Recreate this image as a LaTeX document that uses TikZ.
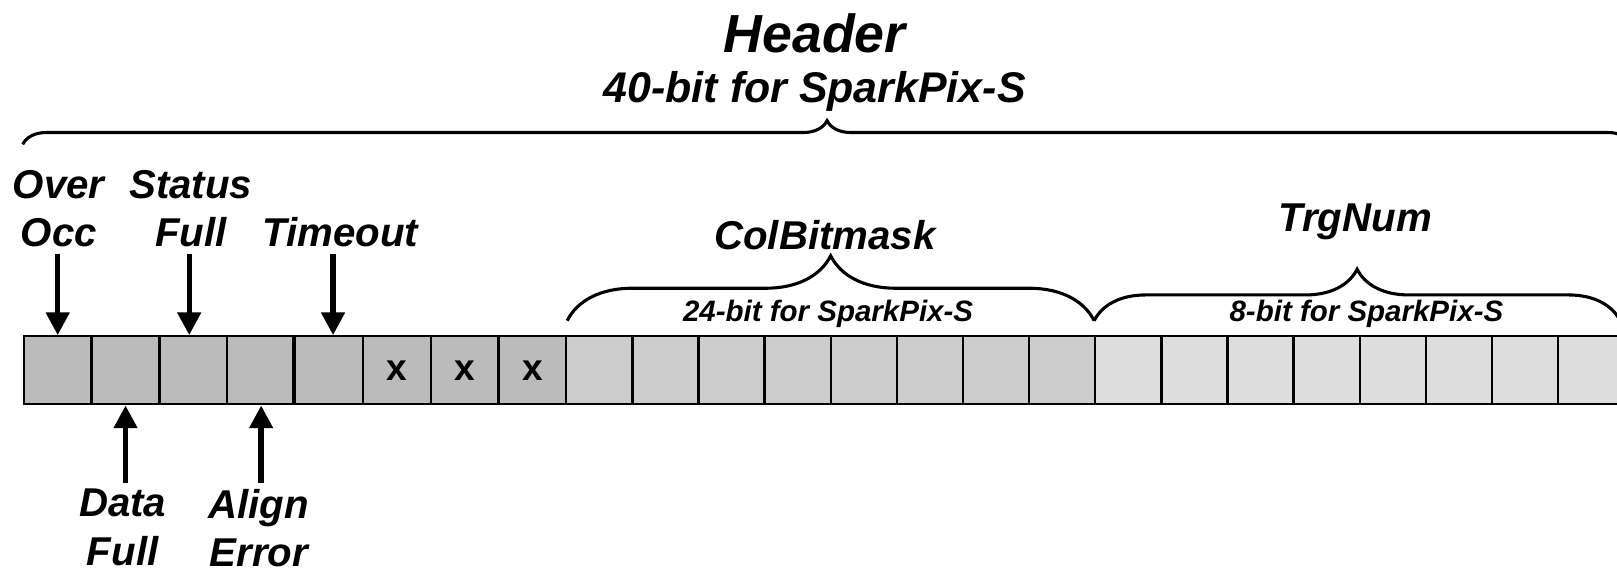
\documentclass[tikz,border=0pt]{standalone}
\usepackage{fontspec}
\setmainfont{Liberation Sans}
\usepackage{xcolor}
\usepackage{tikz}
\usetikzlibrary{
    arrows.meta,
    calc,
    decorations.pathreplacing
}
\definecolor{statusgray}{HTML}{BBBBBB}
\definecolor{colgray}{HTML}{CCCCCC}
\definecolor{trggray}{HTML}{DDDDDD}
\tikzset
{
  cell/.style={draw=black,line width=1.1pt,minimum height=33pt,inner sep=0pt,anchor=north west,font=\bfseries\fontsize{18}{20}\selectfont},
  statuscell/.style={cell,fill=statusgray,minimum width=32.875pt},
  colcell/.style={cell,fill=colgray,minimum width=32.05pt},
  trgcell/.style={cell,fill=trggray,minimum width=32.05pt},
  fieldname/.style={font=\bfseries\itshape\fontsize{19.5}{23.5}\selectfont,align=center,inner sep=3pt},
  bitsize/.style={font=\bfseries\itshape\fontsize{14.3}{17}\selectfont,inner sep=0pt},
  fieldbrace/.style={decorate,decoration={brace,amplitude=#1},line width=1.5pt},
  bitarrow/.style={line width=2.6pt,-{Triangle[length=11pt,width=11pt]}}
}

\begin{document}
\begin{tikzpicture}[x=0.5pt,y=-0.5pt]

    \useasboundingbox (0,0) rectangle (1568,555);
    \clip (0,0) rectangle (1568,555);

    % Widths of the cells
    \pgfmathsetmacro{\sw}{65.75}
    \pgfmathsetmacro{\cw}{64.1}

    % Draw the status bits
    \foreach \i in {1,...,8} {
        \node[statuscell] (c\i) at ({22+\sw*(\i-1)}, 325) {\ifnum\i>5 x\fi};
    }
    \draw[line width=2pt] (c5.north west) -- (c5.south west); % Timeout border

    % Draw the column bitmask and trigger number bits
    \foreach \i in {1,...,8} {
        \node[colcell] (b\i) at ({548+\cw*(\i-1)}, 325) {};
        \node[trgcell] (t\i) at ({1061+\cw*(\i-1)}, 325) {};
    }

    % Header brace and title
    \node[font=\bfseries\itshape\fontsize{26}{30}\selectfont,inner sep=0pt] (header) at (790, 32) {Header};
    \node[font=\bfseries\itshape\fontsize{20.8}{24}\selectfont,inner sep=0pt] (headerbits) at (790, 89) {40-bit for SparkPix-S};
    \draw[fieldbrace=11.5pt] (22,140) -- (1582,140);

    % Braces over the two fields
    \draw[fieldbrace=31.5pt] (b1.north west) ++(2,-14) coordinate (colstart) -- ($(t1.north west)+(0,-14)$) coordinate (colend);
    \draw[fieldbrace=25pt] (colend) -- ++(510,0) coordinate (trgend);
    \node[fieldname,inner sep=0pt] (colbitmask) at (800, 228) {ColBitmask};
    \node[bitsize] (colbits) at (803, 304) {24-bit for SparkPix-S};
    \node[fieldname,inner sep=0pt] (trgnum) at (1314, 215) {TrgNum};
    \node[bitsize] (trgbits) at (1325, 304) {8-bit for SparkPix-S};

    % Labels above the cells
    \node[fieldname,anchor=south] (overocc) at (57, 246) {Over\\Occ};
    \node[fieldname,anchor=south] (statusfull) at (185, 246) {Status\\Full};
    \node[fieldname,anchor=south] (timeout) at (330, 246) {Timeout};

    % Labels below the cells
    \node[fieldname,anchor=north] (datafull) at (119, 468) {Data\\Full};
    \node[fieldname,anchor=north] (alignerror) at (251, 468) {Align\\Error};

    % Draw the arrows
    \draw[bitarrow] (c1.north |- overocc.south) -- (c1.north);
    \draw[bitarrow] ([xshift=-2pt]c3.north |- statusfull.south) -- ([xshift=-2pt]c3.north);
    \draw[bitarrow] ([xshift=2pt]c5.north |- timeout.south) -- ([xshift=2pt]c5.north);
    \draw[bitarrow] (c2.south |- datafull.north) -- (c2.south);
    \draw[bitarrow] (c4.south |- alignerror.north) -- (c4.south);

\end{tikzpicture}
\end{document}
